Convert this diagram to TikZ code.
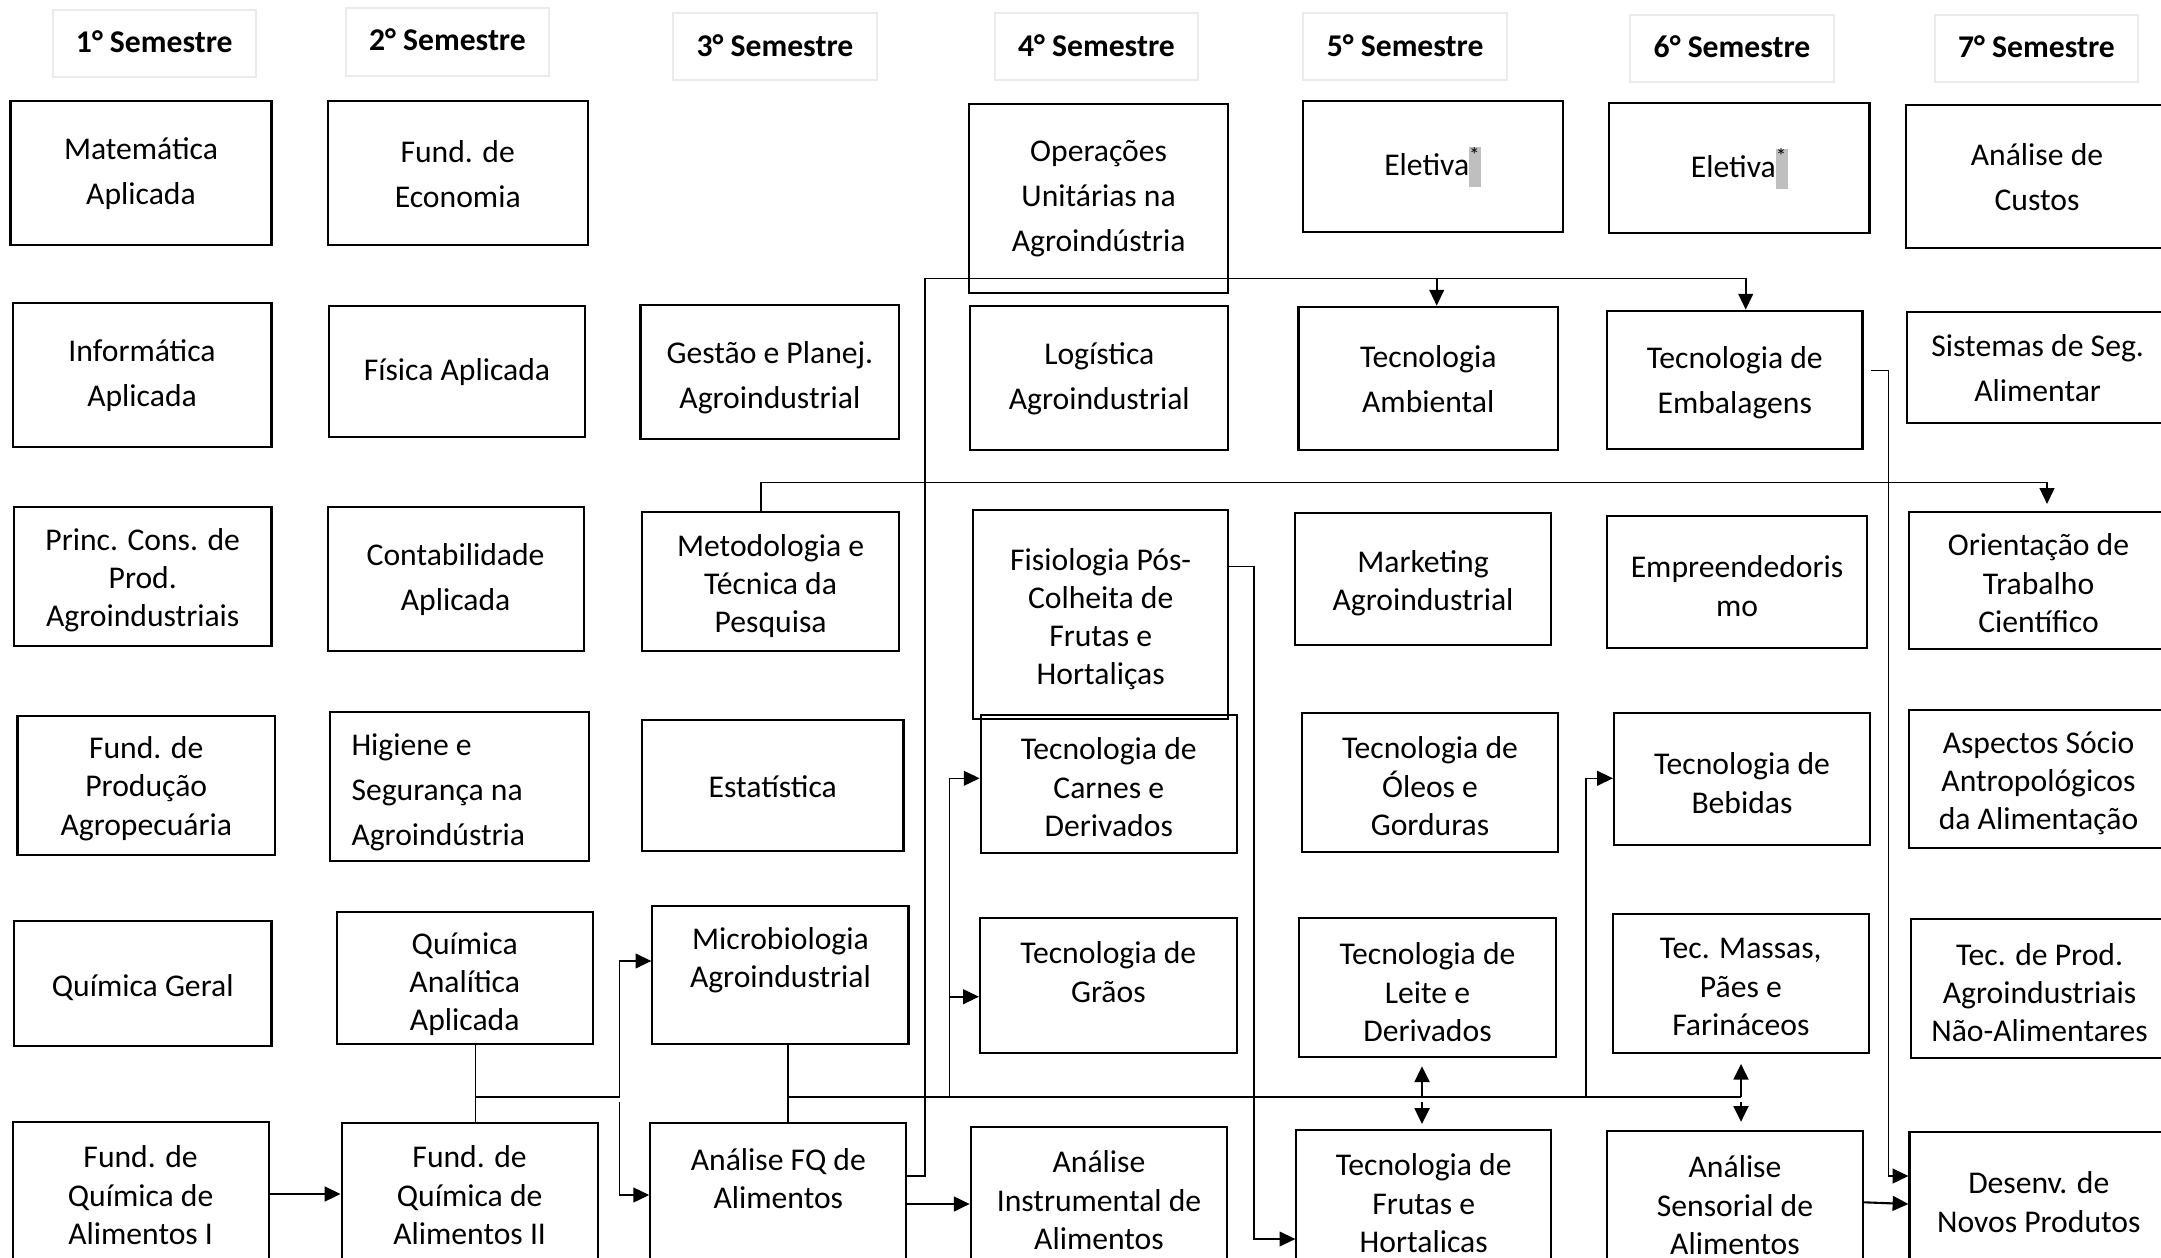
\documentclass[tikz,border=0pt]{standalone}
\usepackage{fontspec}
\setmainfont{Carlito}
\usetikzlibrary{arrows.meta,fit}
\newcommand\hlast{{\setlength{\fboxsep}{0pt}\colorbox{lightgray}{\strut\textsuperscript{*}}}}
\newcommand\cbox[8][txtT]{%
  \node[box, fit={(#3,#4) (#5,#6)}] (#2) {};
  \node[#1] (#2-t) at ({(#3+#5)/2},#7) {#8};}
\newcommand\semhead[7]{%
  \node[hdr, fit={(#2,#3) (#4,#5)}] (#1) {};
  \node[txtH] (#1-t) at ({(#2+#4)/2},#6) {#7};}
\begin{document}
\begin{tikzpicture}[x=0.01cm, y=-0.01cm,
  box/.style={draw=black, line width=0.6pt, inner sep=0pt},
  hdr/.style={draw=black!8, line width=0.6pt, inner sep=0pt},
  txtT/.style={font=\fontsize{9}{10.9}\selectfont, align=center, inner sep=0pt, yshift=-0.9pt},
  txtL/.style={font=\fontsize{9}{12.8}\selectfont, align=center, inner sep=0pt, yshift=-0.9pt},
  txtH/.style={font=\fontsize{9}{10.9}\selectfont\bfseries, inner sep=0pt},
  conn/.style={line width=0.45pt},
  arr/.style={conn, -{Triangle[length=4.5pt,width=4.2pt]}},
  arrT/.style={arr, line width=0.75pt}]
\useasboundingbox (0,0) rectangle (2161,1258);
\fill[white] (0,0) rectangle (2161,1258);
\clip (0,0) rectangle (2161,1258);

% headers
\semhead{h1}{52.6}{10}{256}{77}{41.3}{1° Semestre}
\semhead{h2}{346}{8}{549}{76}{40}{2° Semestre}
\semhead{h3}{673}{13}{877}{80}{45.5}{3° Semestre}
\semhead{h4}{995}{13}{1198}{80}{45.5}{4° Semestre}
\semhead{h5}{1303.4}{13}{1506.9}{80}{45.5}{5° Semestre}
\semhead{h6}{1630.3}{15}{1833.8}{82.3}{47}{6° Semestre}
\semhead{h7}{1934.8}{15}{2138.2}{82.3}{47}{7° Semestre}

% column 1
\cbox[txtL]{mat}{10.5}{100.7}{271.5}{245}{170}{Matemática\\Aplicada}
\cbox[txtL]{inf}{12.6}{302.7}{271.5}{446.7}{372}{Informática\\Aplicada}
\cbox{princ}{14}{506.7}{271.5}{646}{577}{Princ. Cons. de\\Prod.\\Agroindustriais}
\cbox{fprod}{17.5}{715.7}{275}{855}{785.5}{Fund. de\\Produção\\Agropecuária}
\cbox{qgeral}{14}{921}{271.5}{1046}{984}{Química Geral}
\cbox{fqa1}{12.6}{1122.3}{268.7}{1300}{1192}{Fund. de\\Química de\\Alimentos I}

% column 2
\cbox[txtL]{feco}{327.6}{100.7}{587.9}{245}{171}{Fund. de\\Economia}
\cbox{fis}{329}{306}{585}{436.7}{369}{Física Aplicada}
\cbox[txtL]{cont}{327.6}{506.7}{583.6}{650.7}{576}{Contabilidade\\Aplicada}
\node[box, fit={(329.7,712.3) (589.3,861)}] (hig) {};
\node[txtL, align=left, anchor=west] (hig-t) at (350.8,789) {Higiene e\\Segurança na\\Agroindústria};
\cbox{qanal}{336.7}{911.7}{592.8}{1044.3}{981}{Química\\Analítica\\Aplicada}
\cbox{fqa2}{341.6}{1122.7}{597.7}{1300}{1192}{Fund. de\\Química de\\Alimentos II}

% column 3
\cbox[txtL]{gest}{640.5}{305}{899.3}{439.3}{375}{Gestão e Planej.\\Agroindustrial}
\cbox{met}{641.9}{511.7}{899.3}{651}{583}{Metodologia e\\Técnica da\\Pesquisa}
\cbox{est}{642}{720}{903.5}{851}{784}{Estatística}
\cbox{micro}{652.4}{905.7}{908.5}{1044.3}{957}{Microbiologia\\Agroindustrial}
\cbox{fq}{650.3}{1123.3}{906.4}{1300}{1175.5}{Análise FQ de\\Alimentos}

% column 4
\cbox[txtL]{oper}{968.8}{104}{1228.4}{292.7}{195.7}{Operações\\Unitárias na\\Agroindústria}
\cbox[txtL]{log}{970.2}{306}{1228.4}{450}{375.5}{Logística\\Agroindustrial}
\cbox{fisio}{973}{510}{1228.4}{719.3}{616}{Fisiologia Pós-\\Colheita de\\Frutas e\\Hortaliças}
\cbox{carnes}{980.7}{715}{1236.8}{852.7}{784}{Tecnologia de\\Carnes e\\Derivados}
\cbox{graos}{980}{918.3}{1236.7}{1053.3}{968.8}{Tecnologia de\\Grãos}
\cbox{instr}{970.7}{1126.7}{1227.3}{1300}{1197}{Análise\\Instrumental de\\Alimentos}

% column 5
\cbox{elet5}{1302.7}{101}{1563}{231.7}{164}{Eletiva\hlast}
\cbox[txtL]{amb}{1298.5}{306.7}{1558}{450}{376}{Tecnologia\\Ambiental}
\cbox{mkt}{1295}{513}{1551}{645}{580}{Marketing\\Agroindustrial}
\cbox{oleos}{1302}{712.7}{1558}{851.7}{783}{Tecnologia de\\Óleos e\\Gorduras}
\cbox{leite}{1299}{917.7}{1556}{1056.7}{989}{Tecnologia de\\Leite e\\Derivados}
\cbox{frutas}{1296.4}{1130}{1551}{1300}{1200}{Tecnologia de\\Frutas e\\Hortalicas}

% column 6
\cbox{elet6}{1609.3}{102.7}{1869.5}{233.3}{165.4}{Eletiva\hlast}
\cbox[txtL]{emb}{1607}{310.7}{1862.5}{449}{380}{Tecnologia de\\Embalagens}
\cbox{empr}{1607}{516}{1867}{648.3}{583}{Empreendedoris\\mo}
\cbox{beb}{1614}{712.7}{1870}{845}{780}{Tecnologia de\\Bebidas}
\cbox{massas}{1612.8}{914.3}{1868.8}{1053.3}{984}{Tec. Massas,\\Pães e\\Farináceos}
\cbox{sens}{1607}{1131}{1863}{1300}{1202}{Análise\\Sensorial de\\Alimentos}

% column 7
\cbox[txtL]{custos}{1906}{105}{2168}{248.3}{174}{Análise de\\Custos}
\cbox[txtL]{sist}{1907.3}{311.7}{2168}{422.7}{365}{Sistemas de Seg.\\Alimentar}
\cbox{orient}{1909}{511.7}{2168}{649.3}{580}{Orientação de\\Trabalho\\Científico}
\cbox{aspec}{1909}{710}{2168}{848.3}{780}{Aspectos Sócio\\Antropológicos\\da Alimentação}
\cbox{naoal}{1911}{919}{2168}{1057.7}{989.5}{Tec. de Prod.\\Agroindustriais\\Não-Alimentares}
\cbox{desenv}{1909.5}{1131.7}{2168}{1300}{1199}{Desenv. de\\Novos Produtos}

% connectors
\draw[arr, line width=0.6pt] (fqa1.east |- 0,1194) -- (fqa2.west |- 0,1194);

\draw[conn] (475.6,0 |- qanal.south) -- (475.6,0 |- fqa2.north);
\draw[arr] (475.6,1096.7) -| (619.5,961) -- (micro.west |- 0,961);
\draw[arr] (619.5,1101.5) |- (fq.west |- 0,1195);

\draw[conn] (787.7,0 |- micro.south) -- (787.7,0 |- fq.north);
\draw[conn] (787.7,1096.7) -- (1741,1096.7);
\draw[arr] (949.5,1096.7) |- (carnes.west |- 0,778.3);
\draw[arr] (949.5,996.7) -- (graos.west |- 0,996.7);
\draw[arrT, shorten >=2.4pt] (1422,1096.7) -- (1422,0 |- leite.south);
\draw[arrT, shorten >=1.4pt] (1422,1101.5) -- (1422,0 |- frutas.north);
\draw[arr] (1585.7,1096.7) |- (beb.west |- 0,778.3);
\draw[arrT, shorten >=2.7pt] (1741,1096.7) -- (1741,0 |- massas.south);
\draw[arrT, shorten >=2.3pt] (1741,1101.5) -- (1741,0 |- sens.north);

\draw[conn] (fq.east |- 0,1175.7) -| (925,278.3) -- (1745.7,278.3);
\draw[arr] (1436.7,278.3) -- (1436.7,0 |- amb.north);
\draw[arr] (1745.7,278.3) -- (1745.7,0 |- emb.north);

\draw[arr, line width=0.6pt] (fq.east |- 0,1204) -- (instr.west |- 0,1204);

\draw[arr, shorten >=1.9pt] (761,0 |- met.north) |- (2047,482.7) -- (2047,0 |- orient.north);

\draw[arr] (fisio.east |- 0,566.7) -| (1254,1239) -- (frutas.west |- 0,1239);

\draw[arr, shorten <=2pt] (emb.east |- 0,370.7) -| (1888.3,1176) -- (desenv.west |- 0,1176);

\draw[arr, line width=0.6pt] (sens.east |- 0,1202.3) -- (desenv.west |- 0,1204);
\end{tikzpicture}
\end{document}
